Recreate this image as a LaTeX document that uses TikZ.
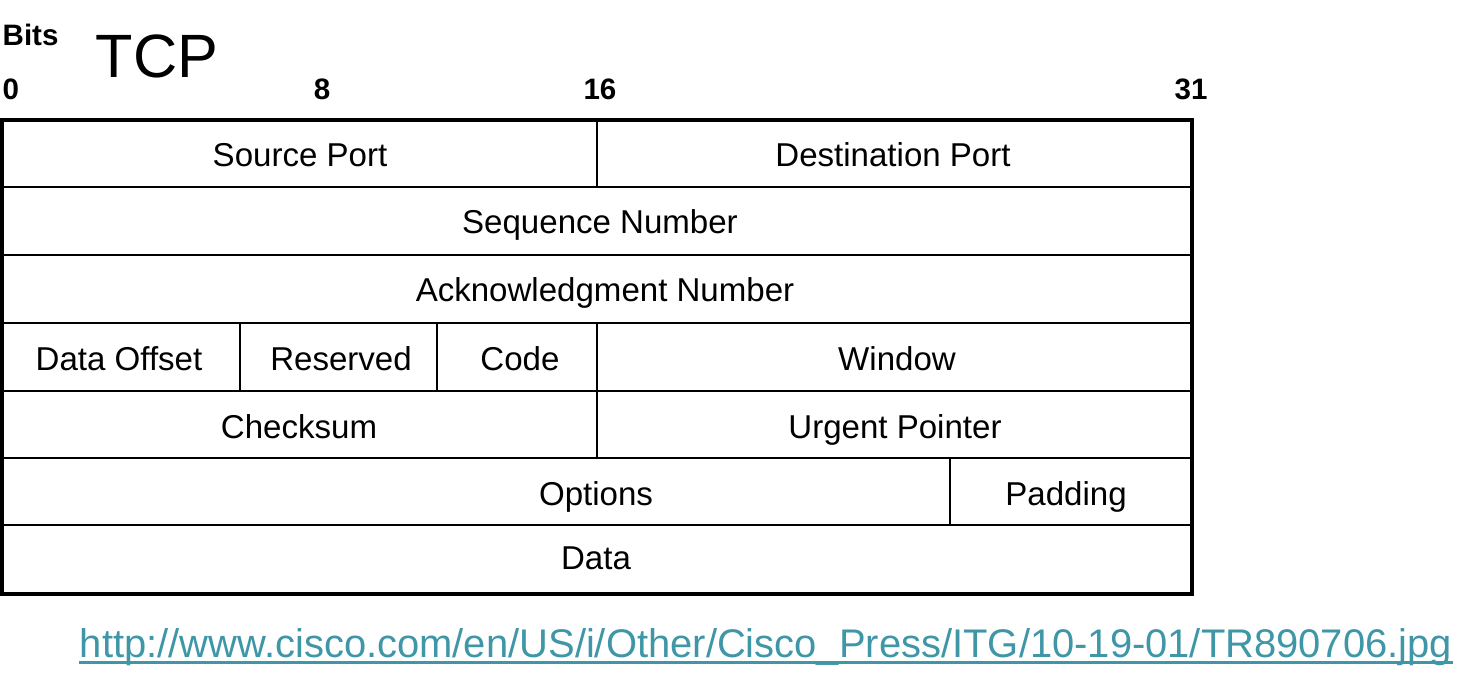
\documentclass[tikz,border=0pt]{standalone}
\usepackage{fontspec}
\setmainfont{Liberation Sans}
\usepackage{xcolor}
\usepackage{tikz}
\usetikzlibrary{positioning}
\definecolor{urlteal}{HTML}{3E96A6}

\begin{document}
\begin{tikzpicture}[x=0.01cm, y=-0.01cm,
  field/.style={font=\fontsize{9.4}{11}\selectfont, text height=0.72em, text depth=0pt, inner ysep=0pt},
  bitnum/.style={font=\bfseries\fontsize{8.4}{10}\selectfont, anchor=base, inner sep=0pt}]
\useasboundingbox (0,0) rectangle (1478,682);

% rows
\foreach \y in {187,255,323,391,458,525}
\draw[line width=0.6pt] (2,\y) -- (1192,\y);

% column splits
\draw[line width=0.6pt] (597,120) -- (597,187);
\draw[line width=0.6pt] (240,323) -- (240,391);
\draw[line width=0.6pt] (437,323) -- (437,391);
\draw[line width=0.6pt] (597,323) -- (597,458);
\draw[line width=0.6pt] (950,458) -- (950,525);

\draw[line width=1pt] (2,120) rectangle (1192,594);

% headings
\node[bitnum, anchor=base west] (bits) at (2,46) {Bits};
\node[font=\fontsize{17.4}{20}\selectfont, anchor=base west, inner sep=0pt] (tcp) at (95,78) {TCP};
\node[bitnum, anchor=base west] (b0) at (2,100) {0};
\node[bitnum] (b8) at (322,100) {8};
\node[bitnum] (b16) at (600,100) {16};
\node[bitnum] (b31) at (1191,100) {31};

% fields
\node[field] (srcport) at (300,154) {Source Port};
\node[field] (dstport) at (893,154) {Destination Port};
\node[field] (seqnum) at (600,221) {Sequence Number};
\node[field] (acknum) at (605,289) {Acknowledgment Number};
\node[field] (offset) at (119,358) {Data Offset};
\node[field] (reserved) at (341,358) {Reserved};
\node[field] (code) at (520,358) {Code};
\node[field] (window) at (897,358) {Window};
\node[field] (checksum) at (299,426) {Checksum};
\node[field] (urgent) at (895,426) {Urgent Pointer};
\node[field] (options) at (596,493) {Options};
\node[field] (padding) at (1066,493) {Padding};
\node[field] (data) at (596,557) {Data};

% source link
\node[font=\fontsize{11.36}{13}\selectfont, text=urlteal, anchor=base, inner sep=0pt] (srclink) at (766,657)
  {http://www.cisco.com/en/US/i/Other/Cisco\_Press/ITG/10-19-01/TR890706.jpg};
\draw[urlteal, line width=0.85pt] ([yshift=-0.055cm]srclink.base west) -- ([yshift=-0.055cm]srclink.base east);
\end{tikzpicture}
\end{document}
